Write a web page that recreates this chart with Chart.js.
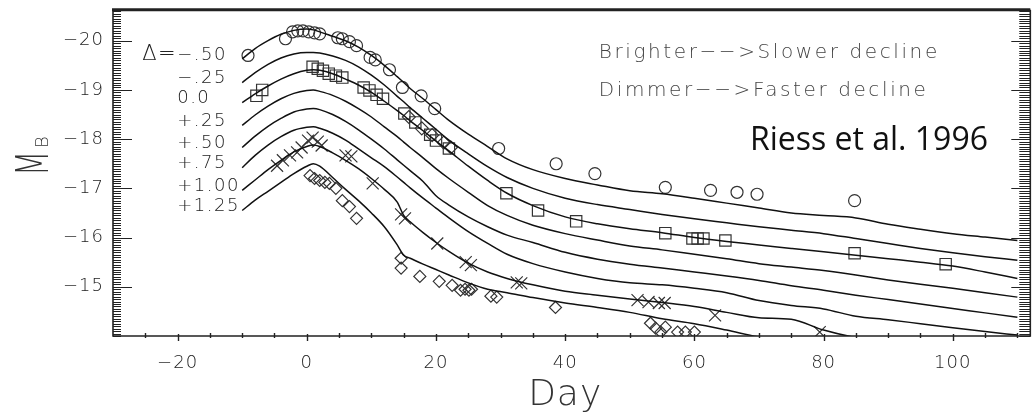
<!DOCTYPE html>
<html>
<head>
<meta charset="utf-8">
<title>MLCS light curves</title>
<script src="https://cdn.jsdelivr.net/npm/chart.js@4.4.1/dist/chart.umd.min.js"></script>
<style>
	html, body { margin: 0; padding: 0; background: #fff; overflow: hidden; }
	#wrap { width: 1040px; height: 419px; }
</style>
</head>
<body>
<div id="wrap"><canvas id="chartDisplay"></canvas></div>
<script>
// template days shared by all the curves
const days = [-10, -8, -6, -4, -2, 0, 1, 2, 4, 6, 8, 10, 12, 14, 15, 16, 18, 20, 22, 25, 28, 31, 35, 40, 45, 50, 55, 60, 65, 70, 75, 80, 85, 90, 95, 100, 105, 110];

// one curve per delta, M_B values at the days above
const curveM050 = [-19.63, -19.84, -20.00, -20.13, -20.21, -20.24, -20.22, -20.18, -20.09, -20.00, -19.87, -19.70, -19.50, -19.27, -19.15, -19.03, -18.82, -18.60, -18.38, -18.10, -17.85, -17.60, -17.38, -17.20, -17.07, -16.95, -16.89, -16.80, -16.70, -16.60, -16.50, -16.45, -16.40, -16.27, -16.17, -16.08, -16.01, -15.94];
const curveM025 = [-19.15, -19.35, -19.52, -19.65, -19.73, -19.76, -19.76, -19.75, -19.69, -19.60, -19.47, -19.30, -19.10, -18.87, -18.76, -18.64, -18.42, -18.20, -17.98, -17.70, -17.44, -17.22, -17.00, -16.80, -16.67, -16.57, -16.47, -16.38, -16.30, -16.22, -16.15, -16.08, -15.98, -15.88, -15.78, -15.69, -15.61, -15.54];
const curveP000 = [-18.74, -18.92, -19.08, -19.22, -19.33, -19.40, -19.41, -19.40, -19.33, -19.22, -19.10, -18.95, -18.77, -18.58, -18.48, -18.37, -18.17, -17.96, -17.76, -17.45, -17.16, -16.90, -16.65, -16.42, -16.28, -16.18, -16.10, -16.00, -15.92, -15.85, -15.78, -15.71, -15.64, -15.57, -15.50, -15.42, -15.30, -15.17];
const curveP025 = [-18.28, -18.49, -18.67, -18.82, -18.93, -18.99, -19.00, -18.97, -18.89, -18.77, -18.62, -18.45, -18.25, -18.05, -17.94, -17.83, -17.62, -17.40, -17.20, -16.92, -16.65, -16.45, -16.25, -16.08, -15.95, -15.83, -15.75, -15.66, -15.57, -15.47, -15.40, -15.33, -15.24, -15.14, -15.05, -14.97, -14.88, -14.79];
const curveP050 = [-17.83, -18.06, -18.26, -18.42, -18.55, -18.61, -18.62, -18.60, -18.50, -18.36, -18.19, -18.00, -17.80, -17.58, -17.47, -17.36, -17.14, -16.85, -16.66, -16.42, -16.22, -16.05, -15.90, -15.70, -15.56, -15.46, -15.38, -15.30, -15.22, -15.13, -15.02, -14.93, -14.83, -14.74, -14.65, -14.56, -14.47, -14.38];
const curveP075 = [-17.42, -17.67, -17.88, -18.05, -18.18, -18.24, -18.25, -18.22, -18.12, -17.98, -17.80, -17.62, -17.44, -17.23, -17.12, -17.01, -16.80, -16.60, -16.40, -16.12, -15.88, -15.66, -15.47, -15.30, -15.17, -15.08, -15.04, -14.97, -14.88, -14.72, -14.62, -14.55, -14.40, -14.33, -14.25, -14.17, -14.09, -14.02];
const curveP100 = [-16.96, -17.17, -17.38, -17.57, -17.74, -17.85, -17.88, -17.85, -17.72, -17.57, -17.40, -17.20, -16.98, -16.72, -16.45, -16.32, -16.10, -15.90, -15.72, -15.48, -15.30, -15.17, -15.04, -14.91, -14.83, -14.75, -14.68, -14.60, -14.48, -14.37, -14.34, -14.12, -13.97, -13.90, -13.85, -13.80, -13.75, -13.70];
const curveP125 = [-16.55, -16.76, -16.94, -17.12, -17.30, -17.45, -17.50, -17.45, -17.22, -16.98, -16.75, -16.50, -16.22, -15.85, -15.64, -15.58, -15.46, -15.35, -15.24, -15.08, -14.95, -14.88, -14.78, -14.67, -14.58, -14.48, -14.35, -14.25, -14.12, -13.98, -13.88, -13.82, -13.77, -13.72, -13.67, -13.62, -13.57, -13.52];
const curveLabels = ["\u2212.50", "\u2212.25", "0.0", "+.25", "+.50", "+.75", "+1.00", "+1.25"];

// observed supernovae
const circleDays = [-9.1, -3.3, -2.2, -1.4, -0.6, 0.3, 1.2, 2.0, 4.8, 5.5, 6.6, 7.7, 9.8, 10.6, 12.8, 14.8, 17.7, 19.8, 29.7, 38.6, 44.6, 55.5, 62.5, 66.6, 69.7, 84.8];
const circleMags = [-19.70, -20.04, -20.18, -20.20, -20.20, -20.18, -20.16, -20.14, -20.06, -20.04, -19.98, -19.90, -19.66, -19.61, -19.41, -19.05, -18.88, -18.62, -17.81, -17.50, -17.30, -17.02, -16.96, -16.92, -16.88, -16.75];
const squareDays = [-7.8, -6.9, 0.9, 1.7, 2.5, 3.4, 4.5, 5.5, 8.8, 9.7, 10.8, 11.8, 15.1, 16.8, 19.1, 20.0, 22.0, 30.9, 35.8, 41.7, 55.5, 59.7, 60.5, 61.4, 64.8, 84.8, 98.9];
const squareMags = [-18.88, -19.00, -19.47, -19.43, -19.39, -19.33, -19.29, -19.25, -19.05, -18.99, -18.90, -18.82, -18.52, -18.34, -18.09, -17.97, -17.81, -16.90, -16.55, -16.33, -16.09, -15.98, -15.98, -15.98, -15.94, -15.68, -15.46];
const openDiamondDays = [15.8, 17.8, 19.4, 21.2, 22.3];
const openDiamondMags = [-18.45, -18.22, -18.08, -17.93, -17.83];
const crossDays = [-4.6, -3.7, -2.6, -1.5, -0.8, 0.2, 0.9, 1.7, 2.3, 6.0, 6.9, 10.2, 14.6, 15.2, 20.2, 24.6, 25.4, 32.5, 33.2, 51.2, 52.9, 54.5, 55.4, 63.2, 79.4];
const crossMags = [-17.46, -17.57, -17.67, -17.73, -17.83, -17.97, -18.03, -17.95, -17.87, -17.67, -17.65, -17.10, -16.47, -16.39, -15.88, -15.50, -15.44, -15.09, -15.07, -14.73, -14.69, -14.67, -14.67, -14.42, -14.08];
const diamondDays = [0.5, 1.2, 2.0, 2.8, 3.5, 4.5, 5.5, 6.6, 7.7, 14.6, 14.6, 17.5, 20.5, 22.5, 23.8, 24.5, 25.1, 25.5, 28.5, 29.4, 38.5, 53.2, 54.0, 54.8, 55.5, 57.4, 58.6, 60.0];
const diamondMags = [-17.26, -17.20, -17.16, -17.12, -17.10, -17.00, -16.75, -16.63, -16.39, -15.58, -15.38, -15.21, -15.11, -15.03, -14.93, -14.95, -14.93, -14.95, -14.81, -14.79, -14.58, -14.26, -14.16, -14.08, -14.18, -14.08, -14.08, -14.08];

// axes
const xTicks = [-20, 0, 20, 40, 60, 80, 100];
const yTicks = [-20, -19, -18, -17, -16, -15];
const xTitle = "Day";
const noteLines = ["Brighter\u2212\u2212>Slower decline", "Dimmer\u2212\u2212>Faster decline"];
const creditText = "Riess et al. 1996";

const curves = [curveM050, curveM025, curveP000, curveP025, curveP050, curveP075, curveP100, curveP125];

function toPoints(xs, ys) {
	return xs.map((x, i) => ({ x: x, y: ys[i] }));
}

function markerSet(xs, ys, style, radius) {
	return {
		data: toPoints(xs, ys),
		showLine: false,
		pointStyle: style,
		pointRadius: radius,
		pointBorderColor: "#333",
		pointBorderWidth: 1.2,
		pointBackgroundColor: "rgba(0,0,0,0)"
	};
}

var datasets = [];
curves.forEach(c => {
	datasets.push({
		data: toPoints(days, c),
		showLine: true,
		borderColor: "#111",
		borderWidth: 1.5,
		pointRadius: 0,
		cubicInterpolationMode: "monotone"
	});
});
datasets.push(markerSet(circleDays, circleMags, "circle", 6));
datasets.push(markerSet(squareDays, squareMags, "rect", 8));
datasets.push(markerSet(openDiamondDays, openDiamondMags, "rectRot", 6.5));
datasets.push(markerSet(crossDays, crossMags, "crossRot", 8.5));
datasets.push(markerSet(diamondDays, diamondMags, "rectRot", 6));

// IDL style frame, inward ticks, labels and notes
const thinFont = "'DejaVu Sans'";
const framePlugin = {
	id: "frame",
	afterDraw(chart) {
		const ctx = chart.ctx;
		const a = chart.chartArea;
		const xs = chart.scales.x;
		const ys = chart.scales.y;
		ctx.save();
		ctx.strokeStyle = "#222";
		ctx.lineCap = "butt";

		ctx.lineWidth = 1.6;
		ctx.beginPath();
		ctx.moveTo(a.left, a.top);
		ctx.lineTo(a.left, a.bottom);
		ctx.lineTo(a.right, a.bottom);
		ctx.lineTo(a.right, a.top);
		ctx.stroke();
		ctx.lineWidth = 3;
		ctx.beginPath();
		ctx.moveTo(a.left - 1, a.top);
		ctx.lineTo(a.right, a.top);
		ctx.stroke();

		// y ticks every 0.05 mag on both sides
		ctx.lineWidth = 1;
		for (let k = 0; k <= 140; k++) {
			const v = -14 - k * 0.05;
			if (v < ys.min) break;
			const major = k % 20 === 0 && k > 0;
			const py = Math.round(ys.getPixelForValue(v)) + 0.5;
			ctx.beginPath();
			ctx.moveTo(a.left, py);
			ctx.lineTo(a.left + (major ? 19 : 8), py);
			ctx.moveTo(a.right, py);
			ctx.lineTo(a.right - (major ? 19 : 11), py);
			ctx.stroke();
		}
		// x ticks every 5 days
		ctx.lineWidth = 1.4;
		for (let d = -25; d <= 110; d += 5) {
			const px = Math.round(xs.getPixelForValue(d)) + 0.5;
			const major = d % 20 === 0;
			ctx.beginPath();
			ctx.moveTo(px, a.bottom - (major ? 2 : 3));
			ctx.lineTo(px, a.bottom + (major ? 5 : 2));
			ctx.stroke();
		}

		ctx.fillStyle = "#222";
		ctx.font = "200 18px " + thinFont;
		ctx.letterSpacing = "1px";
		ctx.textBaseline = "middle";
		ctx.textAlign = "right";
		yTicks.forEach(v => {
			ctx.fillText(String(v).replace("-", "\u2212"), a.left - 9, ys.getPixelForValue(v));
		});
		ctx.textAlign = "center";
		xTicks.forEach(v => {
			ctx.fillText(String(v).replace("-", "\u2212"), xs.getPixelForValue(v), a.bottom + 27);
		});

		// axis titles
		ctx.fillStyle = "#333";
		ctx.letterSpacing = "1px";
		ctx.font = "200 36px " + thinFont;
		ctx.fillText(xTitle, xs.getPixelForValue(40), a.bottom + 60);
		ctx.save();
		ctx.translate(48, ys.getPixelForValue(-17.25));
		ctx.rotate(-Math.PI / 2);
		ctx.scale(0.66, 1);
		ctx.textAlign = "left";
		ctx.textBaseline = "alphabetic";
		ctx.letterSpacing = "0px";
		ctx.font = "200 44px " + thinFont;
		ctx.fillText("M", 0, 0);
		const mw = ctx.measureText("M").width;
		ctx.scale(1 / 0.66, 1);
		ctx.font = "200 18px " + thinFont;
		ctx.fillText("B", mw * 0.66 + 3, 0);
		ctx.restore();

		// delta labels next to the start of each curve
		ctx.fillStyle = "#222";
		ctx.font = "200 18px " + thinFont;
		ctx.letterSpacing = "1.5px";
		ctx.textBaseline = "middle";
		const lx = xs.getPixelForValue(days[0]) - 65;
		curves.forEach((c, i) => {
			const ly = ys.getPixelForValue(c[0]) - 4;
			ctx.textAlign = "left";
			ctx.fillText(curveLabels[i], lx, ly);
			if (i === 0) {
				ctx.textAlign = "right";
				ctx.font = "200 21px " + thinFont;
				ctx.fillText("\u0394=", lx, ly);
				ctx.font = "200 18px " + thinFont;
			}
		});

		// notes
		ctx.textAlign = "left";
		ctx.fillStyle = "#444";
		ctx.font = "200 20px " + thinFont;
		ctx.letterSpacing = "2.6px";
		ctx.fillText(noteLines[0], xs.getPixelForValue(45.2), ys.getPixelForValue(-19.76));
		ctx.fillText(noteLines[1], xs.getPixelForValue(45.2), ys.getPixelForValue(-18.99));
		ctx.fillStyle = "#111";
		ctx.letterSpacing = "0px";
		ctx.font = "32px 'Open Sans'";
		ctx.textBaseline = "alphabetic";
		ctx.fillText(creditText, xs.getPixelForValue(68.6), ys.getPixelForValue(-17.77));
		ctx.restore();
	}
};

new Chart(document.getElementById("chartDisplay"), {
	type: "scatter",
	data: { datasets: datasets },
	options: {
		responsive: true,
		maintainAspectRatio: false,
		animation: false,
		layout: { padding: { left: 113, top: 9, right: 6, bottom: 83 } },
		plugins: { legend: { display: false }, tooltip: { enabled: false } },
		scales: {
			x: { type: "linear", min: -30, max: 112, display: false },
			y: { type: "linear", min: -20.63, max: -14, reverse: true, display: false }
		}
	},
	plugins: [framePlugin]
});
</script>
</body>
</html>
